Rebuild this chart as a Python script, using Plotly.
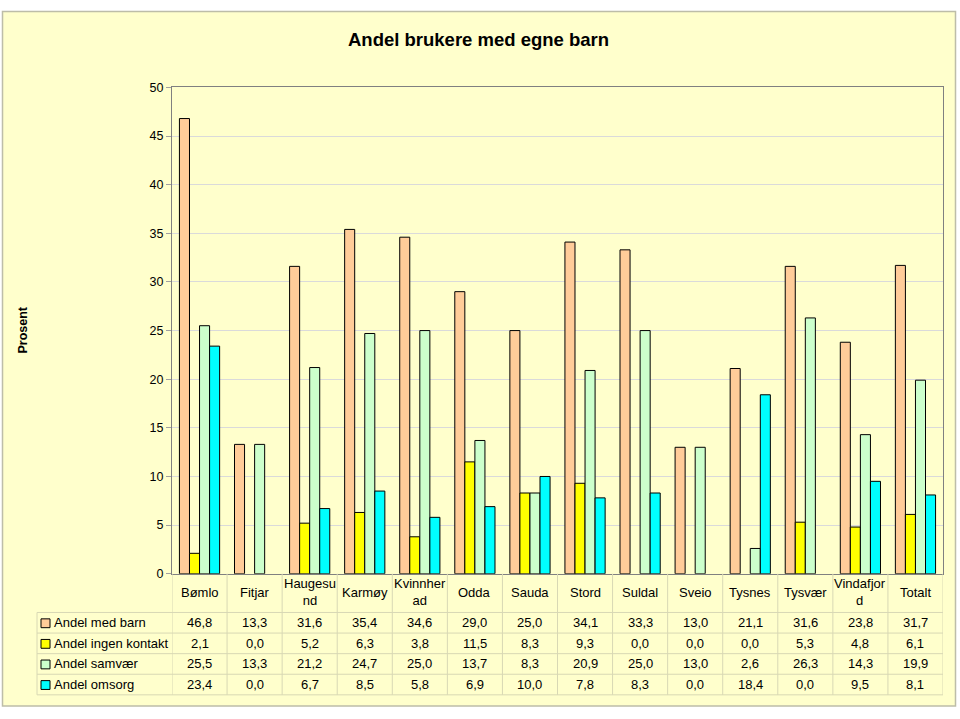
import plotly.graph_objects as go

categories = ["Bømlo", "Fitjar", "Haugesund", "Karmøy", "Kvinnherad", "Odda", "Sauda",
              "Stord", "Suldal", "Sveio", "Tysnes", "Tysvær", "Vindafjord", "Totalt"]
category_labels = ["Bømlo", "Fitjar", "Haugesu<br>nd", "Karmøy", "Kvinnher<br>ad", "Odda", "Sauda",
                   "Stord", "Suldal", "Sveio", "Tysnes", "Tysvær", "Vindafjor<br>d", "Totalt"]

series_names = ["Andel med barn", "Andel ingen kontakt", "Andel samvær", "Andel omsorg"]
med_barn = [46.8, 13.3, 31.6, 35.4, 34.6, 29.0, 25.0, 34.1, 33.3, 13.0, 21.1, 31.6, 23.8, 31.7]
ingen_kontakt = [2.1, 0.0, 5.2, 6.3, 3.8, 11.5, 8.3, 9.3, 0.0, 0.0, 0.0, 5.3, 4.8, 6.1]
samvaer = [25.5, 13.3, 21.2, 24.7, 25.0, 13.7, 8.3, 20.9, 25.0, 13.0, 2.6, 26.3, 14.3, 19.9]
omsorg = [23.4, 0.0, 6.7, 8.5, 5.8, 6.9, 10.0, 7.8, 8.3, 0.0, 18.4, 0.0, 9.5, 8.1]
series_values = [med_barn, ingen_kontakt, samvaer, omsorg]
series_colors = ["#FFCC99", "#FFFF00", "#CCFFCC", "#00FFFF"]

W, H = 960, 719
FONT = "Arial, Liberation Sans, sans-serif"
TFS = 13


def px(x):
    return x / W


def py(y):
    return 1 - y / H


fig = go.Figure()
for name, vals, col in zip(series_names, series_values, series_colors):
    fig.add_trace(go.Bar(
        x=categories, y=vals, name=name,
        marker=dict(color=col,
                    line=dict(color="#000000", width=[1 if v > 0 else 0 for v in vals])),
        showlegend=False,
    ))

shapes = []
annotations = []

# outer chart area
shapes.append(dict(type="rect", xref="paper", yref="paper", layer="below",
                   x0=px(2.5), x1=px(955.5), y0=py(713), y1=py(4.5),
                   fillcolor="#FFFFCC", line=dict(color="#BDBDA8", width=1.5)))

grid_col = "#D8D8B4"
row_lines = [617.5, 638.5, 659.5, 680.5, 701.5]
row_centers = [628, 649, 670, 691]
for yl in row_lines:
    shapes.append(dict(type="line", xref="paper", yref="paper",
                       x0=px(37), x1=px(943), y0=py(yl), y1=py(yl),
                       line=dict(color=grid_col, width=1)))
shapes.append(dict(type="line", xref="paper", yref="paper",
                   x0=px(37), x1=px(37), y0=py(617.5), y1=py(701.5),
                   line=dict(color=grid_col, width=1)))
for i in range(len(categories) + 1):
    shapes.append(dict(type="line", xref="x", yref="paper",
                       x0=i - 0.5, x1=i - 0.5, y0=py(578), y1=py(701.5),
                       line=dict(color=grid_col, width=1)))

for cat, lab in zip(categories, category_labels):
    annotations.append(dict(xref="x", yref="paper", x=cat, y=py(597), text=lab,
                            showarrow=False, xanchor="center", yanchor="middle",
                            font=dict(family=FONT, size=TFS, color="#000000")))

for r, (name, vals, col) in enumerate(zip(series_names, series_values, series_colors)):
    yc = row_centers[r]
    shapes.append(dict(type="rect", xref="paper", yref="paper",
                       x0=px(41), x1=px(50), y0=py(yc + 5), y1=py(yc - 4),
                       fillcolor=col, line=dict(color="#000000", width=1)))
    annotations.append(dict(xref="paper", yref="paper", x=px(52), y=py(yc), text=name,
                            showarrow=False, xanchor="left", yanchor="middle",
                            font=dict(family=FONT, size=TFS, color="#000000")))
    for cat, v in zip(categories, vals):
        annotations.append(dict(xref="x", yref="paper", x=cat, y=py(yc),
                                text=f"{v:.1f}".replace(".", ","),
                                showarrow=False, xanchor="center", yanchor="middle",
                                font=dict(family=FONT, size=TFS, color="#000000")))

annotations.append(dict(xref="paper", yref="paper", x=px(478), y=py(33),
                        text="<b>Andel brukere med egne barn</b>", showarrow=False,
                        xanchor="center", yanchor="middle",
                        font=dict(family=FONT, size=18.5, color="#000000")))
annotations.append(dict(xref="paper", yref="paper", x=px(23), y=py(330),
                        text="<b>Prosent</b>", showarrow=False, textangle=-90,
                        xanchor="center", yanchor="middle",
                        font=dict(family=FONT, size=12.5, color="#000000")))

fig.update_layout(
    width=W, height=H,
    margin=dict(l=0, r=0, t=0, b=0),
    paper_bgcolor="#FFFFFF",
    plot_bgcolor="#FFFFFF",
    barmode="group", bargap=0.27, bargroupgap=0,
    shapes=shapes, annotations=annotations,
    font=dict(family=FONT, size=12, color="#000000"),
    xaxis=dict(domain=[px(172), px(943)], showticklabels=False, showgrid=False,
               ticks="", showline=True, linecolor="#808080", linewidth=1, mirror=True,
               range=[-0.5, len(categories) - 0.5], fixedrange=True),
    yaxis=dict(domain=[py(578), py(82)], range=[0, 50], dtick=5, tick0=0,
               showgrid=True, gridcolor="#DADADA", gridwidth=1,
               ticks="outside", ticklen=5, tickcolor="#A0A0A0",
               showline=True, linecolor="#808080", linewidth=1, mirror=True,
               zeroline=False, tickfont=dict(family=FONT, size=12.5, color="#000000"),
               fixedrange=True),
)

fig.write_html("out.html")
